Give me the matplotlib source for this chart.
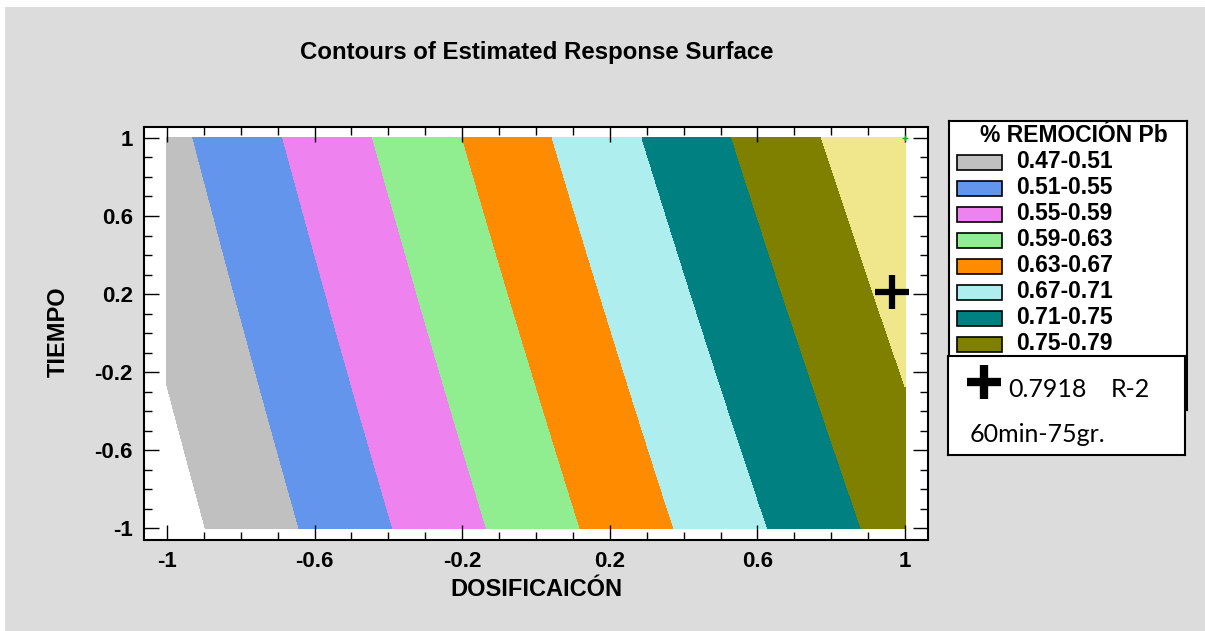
"""Contours of Estimated Response Surface: % remoción Pb vs dosificación / tiempo."""
import numpy as np
import matplotlib
matplotlib.use("Agg")
import matplotlib.pyplot as plt
from matplotlib.patches import Rectangle

plt.rcParams["font.family"] = ["Liberation Sans", "DejaVu Sans"]

# fitted surface  f = b0 + b1*x + b2*y + b12*x*y   (coded units)
B0, B1, B2, B12 = 0.637, 0.161, 0.0258, 0.0034

LEVELS = [0.47, 0.51, 0.55, 0.59, 0.63, 0.67, 0.71, 0.75, 0.79, 0.83]
COLORS = ["#c0c0c0", "#6495ed", "#ee82ee", "#90ee90", "#ff8c00",
          "#afeeee", "#008080", "#808000", "#f0e68c"]
# last band (0.79-0.83) is hidden behind the annotation box in the original
LEGEND_LABELS = ["0.47-0.51", "0.51-0.55", "0.55-0.59", "0.59-0.63",
                 "0.63-0.67", "0.67-0.71", "0.71-0.75", "0.75-0.79"]

TICKS = [-1, -0.6, -0.2, 0.2, 0.6, 1]
TICK_LABELS = ["-1", "-0.6", "-0.2", "0.2", "0.6", "1"]
MINOR_TICKS = [-0.9, -0.8, -0.7, -0.5, -0.4, -0.3, -0.1, 0.0, 0.1, 0.3, 0.4, 0.5, 0.7, 0.8, 0.9]

OPT_X, OPT_Y = [0.965], [0.21]
CORNER_X, CORNER_Y = [1.0], [1.0]

BG = "#dcdcdc"
W, H = 1205, 631


def fx(px):
    return px / W


def fy(py):
    return 1 - py / H


def main():
    fig = plt.figure(figsize=(W / 100, H / 100), dpi=100)
    fig.patch.set_facecolor("white")
    fig.patches.append(Rectangle((fx(5), 0), 1, fy(7), transform=fig.transFigure,
                                 facecolor=BG, edgecolor="none", zorder=-10))

    ax = fig.add_axes([fx(144), fy(540), fx(784), 413 / H])
    ax.set_facecolor("white")

    g = np.linspace(-1, 1, 500)
    X, Y = np.meshgrid(g, g)
    Z = B0 + B1 * X + B2 * Y + B12 * X * Y
    ax.contourf(X, Y, Z, levels=LEVELS, colors=COLORS)

    ax.plot(OPT_X, OPT_Y, marker="+", color="black", markersize=24, mew=4.5, ls="none")
    ax.plot(CORNER_X, CORNER_Y, marker="+", color="#22aa22", markersize=5, mew=1, ls="none")

    ax.set_xlim(-1.062, 1.062)
    ax.set_ylim(-1.06, 1.056)
    ax.set_xticks(TICKS)
    ax.set_xticklabels(TICK_LABELS)
    ax.set_yticks(TICKS)
    ax.set_yticklabels(TICK_LABELS)
    ax.set_xticks(MINOR_TICKS, minor=True)
    ax.set_yticks(MINOR_TICKS, minor=True)
    ax.tick_params(which="both", direction="in", top=True, right=True, width=1, color="black")
    ax.tick_params(which="major", length=10.5, pad=8, labelsize=16)
    ax.tick_params(which="minor", length=5.5)
    for lab in ax.get_xticklabels() + ax.get_yticklabels():
        lab.set_fontweight("bold")
    for s in ax.spines.values():
        s.set_linewidth(1.5)
        s.set_color("black")

    fig.text(fx(537), fy(53), "Contours of Estimated Response Surface",
             ha="center", va="center", fontsize=17.3, fontweight="bold")
    fig.text(fx(536), fy(590), "DOSIFICAICÓN", ha="center", va="center",
             fontsize=17, fontweight="bold")
    fig.text(fx(58), fy(332), "TIEMPO", ha="center", va="center", rotation=90,
             fontsize=17, fontweight="bold")

    # legend box
    lax = fig.add_axes([fx(949), fy(410), 238 / W, 289 / H])
    lax.set_xlim(949, 1187)
    lax.set_ylim(410, 121)
    lax.set_xticks([])
    lax.set_yticks([])
    for s in lax.spines.values():
        s.set_linewidth(1.5)
    lax.text(980, 136, "% REMOCIÓN Pb", ha="left", va="center", fontsize=16.5, fontweight="bold")
    for i, (c, lab) in enumerate(zip(COLORS, LEGEND_LABELS)):
        yc = 162 + 26 * i
        lax.add_patch(Rectangle((957, yc - 7.5), 45, 15, facecolor=c, edgecolor="black", lw=1.2))
        lax.text(1016, yc, lab, ha="left", va="center", fontsize=16.5, fontweight="bold")

    # annotation box
    bax = fig.add_axes([fx(948), fy(455), 237 / W, 99 / H])
    bax.set_xlim(948, 1185)
    bax.set_ylim(455, 356)
    bax.set_xticks([])
    bax.set_yticks([])
    bax.set_facecolor("white")
    for s in bax.spines.values():
        s.set_linewidth(1.5)
    bax.plot([984], [382], marker="+", color="black", markersize=25, mew=6)
    bax.text(1008, 397, "0.7918", ha="left", va="baseline", fontsize=18, family="Lato")
    bax.text(1111, 397, "R-2", ha="left", va="baseline", fontsize=18, family="Lato")
    bax.text(970, 442, "60min-75gr.", ha="left", va="baseline", fontsize=18, family="Lato")

    fig.savefig("out.png", dpi=100, facecolor=fig.get_facecolor())


if __name__ == "__main__":
    main()
